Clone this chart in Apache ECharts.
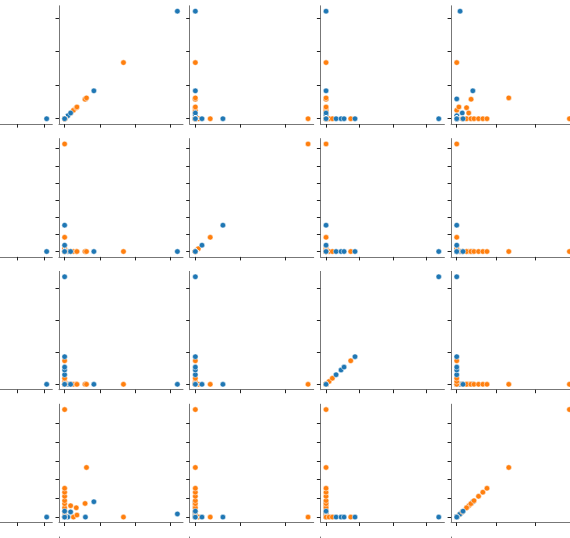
<!DOCTYPE html>
<html><head><meta charset="utf-8">
<script src="https://cdn.jsdelivr.net/npm/echarts@6/dist/echarts.min.js"></script>
<style>html,body{margin:0;padding:0;background:#fff}#c{width:570px;height:538px}</style>
</head><body><div id="c"></div>
<script>
// hue group of each observation
const hue = ['A','A','A','B','B','B','B','B','B','B','A','A','A','A',
             'B','A','B','A','B',
             'B','B','A','A','A','B','A','A',
             'B','B','B','B','B','B','B','B','A'];
// variables (one value per observation)
const v0 = [0,4.08,0,0,0,0,0,0,0,0,0,0,0,0, 0,0,0,0,0, 0,0,0,0,0,0,0,0, 0,0,0,0,0,0,0,0,0];
const v1 = [0,0,59,58,62,17,25,33,35,167,9,17,83,320, 0,0,0,0,0, 0,0,0,0,0,0,0,0, 0,0,0,0,0,0,0,0,0];
const v2 = [0,0,0,0,0,0,0,0,0,0,0,0,0,0, 33,74,166,307,1255, 0,0,0,0,0,0,0,0, 0,0,0,0,0,0,0,0,0];
const v3 = [0,0,0,0,0,0,0,0,0,0,0,0,0,0, 0,0,0,0,0, 0.91,1.89,3.0,4.48,5.39,7.38,8.66,33.7, 0,0,0,0,0,0,0,0,0];
const v4 = [0,0,0,0.73,2.65,0.61,0,0.50,0.11,0,0,0.28,0.82,0.17, 0,0,0,0,0, 0,0,0,0,0,0,0,0, 0.29,0.50,0.72,0.88,1.11,1.33,1.54,5.74,0.32];
// tick values per variable
const xTicks0 = [0,1,2,3,4];
const xTicks1 = [0,100,200,300];
const yTicks1 = [0,100,200,300];
const xTicks2 = [0,500,1000];
const yTicks2 = [0,200,400,600,800,1000,1200];
const xTicks3 = [0,10,20,30];
const yTicks3 = [0,10,20,30];
const xTicks4 = [0,2,4];
const yTicks4 = [0,1,2,3,4,5];

const vars = [v0,v1,v2,v3,v4];
const xT = [xTicks0,xTicks1,xTicks2,xTicks3,xTicks4];
const yT = [null,yTicks1,yTicks2,yTicks3,yTicks4];
const colors = {A:'#1f77b4', B:'#ff7f0e'};

const colLeft = c => -71.7 + 130.7*c;
const rowTop = r => 5.8 + 132.8*r;
const W = 124, H = 118.3;

function ext(v){ const M = Math.max(...v); return {min:-0.05*M, max:1.05*M}; }

const grids=[], xAxes=[], yAxes=[], series=[];
const lineCol = '#777', tickCol = '#222';
for (let r=0;r<4;r++){
  for (let c=0;c<5;c++){
    const gi = grids.length;
    let left = colLeft(c), width = W;
    const ex = ext(vars[c]);
    let xmin = ex.min;
    if (left < 0){
      xmin = ex.min + (-left / W) * (ex.max - ex.min);
      width = W + left; left = 0;
    }
    grids.push({left:left, top:rowTop(r), width:width, height:H, containLabel:false, outerBoundsMode:'none'});
    xAxes.push({gridIndex:gi, type:'value', min:xmin, max:ex.max,
      axisLine:{show:true,onZero:false,lineStyle:{color:lineCol,width:1}},
      axisTick:{show:true,length:3.5,customValues:xT[c].filter(t=>t>=xmin),lineStyle:{color:tickCol,width:1}},
      axisLabel:{show:false}, splitLine:{show:false}});
    const ey = ext(vars[r+1]);
    yAxes.push({gridIndex:gi, type:'value', min:ey.min, max:ey.max,
      axisLine:{show:c>0,onZero:false,lineStyle:{color:lineCol,width:1}},
      axisTick:{show:c>0,length:3.5,customValues:yT[r+1],lineStyle:{color:tickCol,width:1}},
      axisLabel:{show:false}, splitLine:{show:false}});
    const xs = vars[c], ys = vars[r+1];
    series.push({type:'scatter', xAxisIndex:gi, yAxisIndex:gi, symbol:'circle', symbolSize:5.5,
      silent:true, animation:false, clip:false,
      data: hue.map((h,i)=>({value:[xs[i], ys[i]], itemStyle:{color:colors[h]}})),
      itemStyle:{borderColor:'#fff', borderWidth:0.5, opacity:1}});
  }
}
// next row (only the top of its spines is visible)
for (let c=1;c<5;c++){
  const gi = grids.length;
  grids.push({left:colLeft(c), top:rowTop(4), width:W, height:H, containLabel:false, outerBoundsMode:'none'});
  xAxes.push({gridIndex:gi, type:'value', min:0, max:1, show:false});
  yAxes.push({gridIndex:gi, type:'value', min:0, max:1,
    axisLine:{show:true,onZero:false,lineStyle:{color:lineCol,width:1}},
    axisTick:{show:false}, axisLabel:{show:false}, splitLine:{show:false}});
  series.push({type:'scatter', xAxisIndex:gi, yAxisIndex:gi, data:[], silent:true});
}

const chart = echarts.init(document.getElementById('c'), null, {renderer:'canvas'});
chart.setOption({animation:false, backgroundColor:'#fff', grid:grids, xAxis:xAxes, yAxis:yAxes, series:series});
</script></body></html>
